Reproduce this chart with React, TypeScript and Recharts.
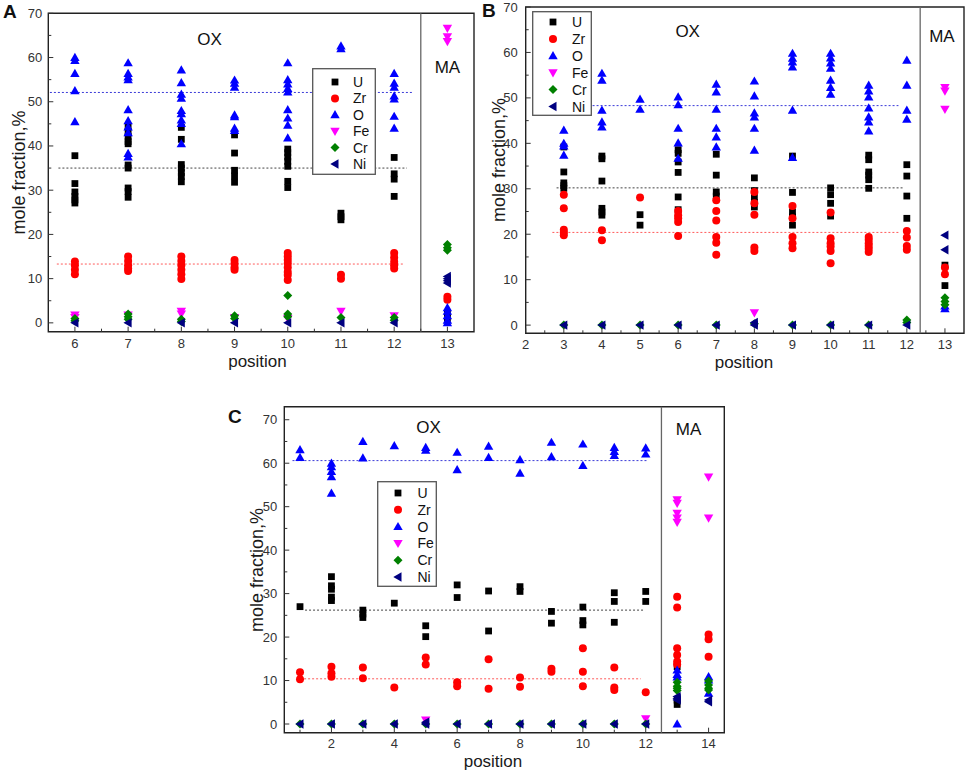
import React from 'react';
import { ScatterChart, Scatter, XAxis, YAxis, ReferenceLine, ReferenceArea, ReferenceDot, Legend } from 'recharts';

type Col = [number, number[]][];

const FONT = '"Liberation Sans", Arial, Helvetica, sans-serif';

const SERIES = ['U', 'Zr', 'O', 'Fe', 'Cr', 'Ni'];
const COLORS = ['#000000', '#ff0000', '#0000ff', '#ff00ff', '#008000', '#000080'];
const SHAPES = ['square', 'circle', 'up', 'down', 'diamond', 'left'];

const Y_MAJOR = [0, 10, 20, 30, 40, 50, 60, 70];
const Y_MINOR = [5, 15, 25, 35, 45, 55, 65];
const A_X_MAJOR = [6, 7, 8, 9, 10, 11, 12, 13];
const A_X_MINOR = [6.5, 7.5, 8.5, 9.5, 10.5, 11.5, 12.5];
const B_X_MAJOR = [2, 3, 4, 5, 6, 7, 8, 9, 10, 11, 12, 13];
const B_X_MINOR = [2.5, 3.5, 4.5, 5.5, 6.5, 7.5, 8.5, 9.5, 10.5, 11.5, 12.5];
const C_X_MAJOR = [2, 4, 6, 8, 10, 12, 14];
const C_X_MINOR = [1, 3, 5, 7, 9, 11, 13];

// ---------- Panel A ----------
const A_U: Col = [
  [6, [37.8, 31.5, 29.6, 28.6, 27.8, 27.1]],
  [7, [44.4, 43.2, 42.1, 41.0, 40.5, 35.7, 35.0, 30.5, 29.7, 28.4]],
  [8, [44.2, 41.5, 35.8, 35.0, 34.0, 33.1, 31.9]],
  [9, [42.5, 38.4, 34.5, 33.2, 31.8]],
  [10, [39.3, 38.5, 37.5, 36.5, 35.4, 32.0, 30.6]],
  [11, [24.8, 24.0, 23.3]],
  [12, [37.4, 33.7, 32.5, 28.6]],
  [13, [2.2, 1.0]],
];
const A_ZR: Col = [
  [6, [13.9, 13.0, 12.0, 11.0]],
  [7, [15.0, 14.0, 13.0, 12.3, 11.7]],
  [8, [15.0, 14.0, 13.0, 12.0, 11.0, 9.9]],
  [9, [14.2, 13.4, 12.6, 12.0]],
  [10, [15.8, 15.0, 14.2, 13.4, 12.5, 11.5, 10.8, 9.7]],
  [11, [10.9, 10.0]],
  [12, [15.8, 14.8, 13.8, 13.0, 12.3]],
  [13, [5.9, 5.2]],
];
const A_O: Col = [
  [6, [60.0, 59.3, 56.4, 52.5, 45.5]],
  [7, [58.8, 56.4, 55.6, 55.0, 48.2, 45.7, 44.3, 43.0, 38.3, 37.5]],
  [8, [57.2, 54.3, 51.7, 50.8, 48.0, 47.3, 45.9, 45.1, 40.5]],
  [9, [54.9, 54.2, 53.3, 47.0, 46.6, 44.0, 43.5]],
  [10, [58.8, 55.0, 54.0, 53.0, 52.2, 48.2, 46.3, 44.7, 41.8]],
  [11, [62.6, 62.0]],
  [12, [56.4, 54.2, 53.3, 51.3, 50.6, 46.7, 44.0]],
  [13, [3.4, 2.6, 1.6, 0.6, 0.0]],
];
const A_FE: Col = [
  [6, [1.8, 1.2]], [7, [1.8]], [8, [2.6, 2.0]], [9, [1.2]], [10, [1.0]],
  [11, [2.6]], [12, [1.6]], [13, [66.6, 64.7, 63.6]],
];
const A_CR: Col = [
  [6, [1.0, 0.5]], [7, [2.0, 1.4, 0.8]], [8, [0.8, 0.3]], [9, [1.6, 1.0]],
  [10, [6.2, 2.0, 1.4]], [11, [1.2]], [12, [1.2, 0.6]], [13, [17.7, 17.0, 16.4]],
];
const A_NI: Col = [
  [6, [0]], [7, [0]], [8, [0]], [9, [0]], [10, [0]], [11, [0]], [12, [0]],
  [13, [10.5, 10.0, 9.5, 9.0]],
];
const A_MEANS = [52.1, 35.0, 13.3]; // O, U, Zr

// ---------- Panel B ----------
const B_U: Col = [
  [3, [39.2, 33.7, 31.3, 30.7, 30.1]],
  [4, [37.2, 36.6, 31.7, 25.7, 24.9, 24.2]],
  [5, [24.3, 22.0]],
  [6, [38.6, 37.8, 35.9, 33.6, 28.2, 25.4]],
  [7, [37.6, 33.0, 29.3, 28.4]],
  [8, [32.4, 29.6, 28.2, 27.0, 26.0]],
  [9, [37.2, 29.2, 24.9, 23.8, 22.0]],
  [10, [30.2, 28.7, 26.8, 24.0]],
  [11, [37.4, 36.4, 33.7, 33.0, 32.0, 30.1]],
  [12, [35.3, 32.8, 28.4, 23.5]],
  [13, [13.2, 8.7]],
];
const B_ZR: Col = [
  [3, [28.7, 25.7, 21.0, 20.4, 19.8]],
  [4, [20.9, 18.7]],
  [5, [28.1]],
  [6, [25.1, 24.2, 23.5, 22.7, 19.6]],
  [7, [27.5, 25.1, 23.0, 19.4, 18.1, 15.5]],
  [8, [29.3, 26.8, 24.3, 17.1, 16.3]],
  [9, [26.2, 23.5, 19.4, 18.0, 16.9]],
  [10, [24.8, 19.1, 18.0, 17.3, 16.3, 13.6]],
  [11, [19.4, 18.8, 18.0, 17.4, 16.8, 16.1]],
  [12, [20.7, 19.3, 17.4, 16.6]],
  [13, [12.7, 11.2]],
];
const B_O: Col = [
  [3, [42.9, 40.0, 39.4, 37.4]],
  [4, [55.4, 53.9, 47.3, 44.7, 43.6]],
  [5, [49.7, 47.5]],
  [6, [50.2, 48.5, 43.3, 40.1, 36.7]],
  [7, [53.0, 51.3, 47.5, 43.3, 41.4, 39.2]],
  [8, [53.7, 50.4, 46.7, 45.8, 43.3, 38.5]],
  [9, [59.8, 58.7, 57.9, 56.8, 47.3, 36.9]],
  [10, [59.8, 58.8, 57.7, 56.5, 53.9, 52.3, 50.8]],
  [11, [52.8, 51.5, 50.2, 47.8, 45.8, 44.7, 42.7]],
  [12, [58.3, 52.8, 47.3, 45.3]],
  [13, [4.2, 3.6]],
];
const B_FE: Col = [[8, [2.7]], [13, [52.3, 51.5, 47.5]]];
const B_CR: Col = [
  [3, [0]], [4, [0]], [5, [0]], [6, [0]], [7, [0]], [8, [0.3]], [9, [0]],
  [10, [0]], [11, [0]], [12, [1.1, 0.6]], [13, [6.0, 5.2, 4.5]],
];
const B_NI: Col = [
  [3, [0]], [4, [0]], [5, [0]], [6, [0]], [7, [0]], [8, [0.6, 0]], [9, [0]],
  [10, [0]], [11, [0]], [12, [0]], [13, [19.8, 16.6]],
];
const B_MEANS = [48.3, 30.2, 20.4];

// ---------- Panel C ----------
const C_U: Col = [
  [1, [27.0]],
  [2, [33.9, 31.8, 31.0, 29.2, 28.4]],
  [3, [26.2, 25.3, 24.5]],
  [4, [27.8]],
  [5, [22.6, 20.1]],
  [6, [32.0, 29.1]],
  [7, [30.6, 21.4]],
  [8, [31.6, 30.5]],
  [9, [25.9, 23.2]],
  [10, [26.9, 23.8, 22.8]],
  [11, [30.2, 28.2, 23.4]],
  [12, [30.5, 28.2]],
  [13, [13.2, 5.5, 4.5]],
];
const C_ZR: Col = [
  [1, [11.9, 10.3]],
  [2, [13.2, 11.7, 10.9]],
  [3, [13.0, 10.5]],
  [4, [8.4]],
  [5, [15.3, 13.7]],
  [6, [9.6, 8.7]],
  [7, [14.9, 8.1]],
  [8, [10.7, 8.6]],
  [9, [12.7, 12.0]],
  [10, [17.4, 12.0, 8.7]],
  [11, [13.0, 8.4, 7.8]],
  [12, [7.3]],
  [13, [29.3, 26.8, 17.4, 15.9, 14.4, 13.7]],
  [14, [20.6, 19.5, 15.5]],
];
const C_O: Col = [
  [1, [63.1, 61.3]],
  [2, [60.0, 59.2, 58.1, 56.9, 53.1]],
  [3, [65.0, 61.2]],
  [4, [64.0]],
  [5, [63.6, 63.0]],
  [6, [62.5, 58.5]],
  [7, [63.9, 61.3]],
  [8, [60.8, 57.7]],
  [9, [64.8, 61.5]],
  [10, [64.4, 59.5]],
  [11, [63.6, 62.7, 61.8]],
  [12, [63.5, 62.1]],
  [13, [12.4, 11.4, 10.8, 0.0]],
  [14, [10.9, 10.1, 7.1]],
];
const C_FE: Col = [
  [5, [0.9]], [12, [1.2]], [13, [51.6, 50.8, 48.5, 47.4, 46.4]], [14, [56.8, 47.4]],
];
const C_CR: Col = [
  [1, [0]], [2, [0]], [3, [0]], [4, [0]], [5, [0]], [6, [0]], [7, [0]],
  [8, [0]], [9, [0]], [10, [0]], [11, [0]], [12, [0]],
  [13, [9.6, 8.7, 8.2, 7.7]], [14, [9.9, 9.0, 8.2, 7.8]],
];
const C_NI: Col = [
  [1, [0]], [2, [0]], [3, [0]], [4, [0]], [5, [0.4, 0]], [6, [0]], [7, [0]],
  [8, [0]], [9, [0]], [10, [0]], [11, [0]], [12, [0]],
  [13, [6.3, 5.8, 5.5]], [14, [5.5, 5.1]],
];
const C_MEANS = [60.6, 26.2, 10.4];

const flatten = (cols: Col) => cols.flatMap(([x, ys]) => ys.map((y) => ({ x, y })));

function Marker({ cx, cy, kind, color }: any) {
  if (cx == null || cy == null) return null;
  switch (kind) {
    case 'square':
      return <rect x={cx - 3.4} y={cy - 3.4} width={6.8} height={6.8} fill={color} />;
    case 'circle':
      return <circle cx={cx} cy={cy} r={4} fill={color} />;
    case 'up':
      return <polygon points={`${cx},${cy - 4.7} ${cx + 4.7},${cy + 3.5} ${cx - 4.7},${cy + 3.5}`} fill={color} />;
    case 'down':
      return <polygon points={`${cx},${cy + 4.7} ${cx + 4.7},${cy - 3.5} ${cx - 4.7},${cy - 3.5}`} fill={color} />;
    case 'diamond':
      return <polygon points={`${cx},${cy - 4.5} ${cx + 4.5},${cy} ${cx},${cy + 4.5} ${cx - 4.5},${cy}`} fill={color} />;
    default:
      return <polygon points={`${cx - 4.7},${cy} ${cx + 3.5},${cy - 4.7} ${cx + 3.5},${cy + 4.7}`} fill={color} />;
  }
}

const makeXTick = (major: number[], labelDy: number) => (p: any) => {
  const v = Number(p.payload.value);
  const isMaj = major.includes(v);
  return (
    <g>
      <line x1={p.x} x2={p.x} y1={p.y} y2={p.y - (isMaj ? 5 : 3)} stroke="#333" strokeWidth={1} />
      {isMaj && (
        <text x={p.x} y={p.y + labelDy} textAnchor="middle" fontSize={13} fill="#333" fontFamily={FONT}>
          {v}
        </text>
      )}
    </g>
  );
};

const makeYTick = (gap: number) => (p: any) => {
  const v = Number(p.payload.value);
  const isMaj = Y_MAJOR.includes(v);
  return (
    <g>
      <line x1={p.x} x2={p.x + (isMaj ? 5 : 3)} y1={p.y} y2={p.y} stroke="#333" strokeWidth={1} />
      {isMaj && (
        <text x={p.x - gap} y={p.y + 4.5} textAnchor="end" fontSize={13} fill="#333" fontFamily={FONT}>
          {v}
        </text>
      )}
    </g>
  );
};

function LegendBox({ w, h, mx, tx, y0, dy }: any) {
  return (
    <svg width={w} height={h} style={{ display: 'block' }}>
      <rect x={0.7} y={0.7} width={w - 1.4} height={h - 1.4} fill="#fff" stroke="#555" strokeWidth={1.3} />
      {SERIES.map((s, i) => (
        <g key={s}>
          <Marker cx={mx} cy={y0 + i * dy} kind={SHAPES[i]} color={COLORS[i]} />
          <text x={tx} y={y0 + i * dy + 5} fontSize={14} fill="#111" fontFamily={FONT}>
            {s}
          </text>
        </g>
      ))}
    </svg>
  );
}

type PanelProps = {
  left: number; top: number; width: number; height: number;
  mTop: number; mRight: number; yW: number; xH: number;
  xDomain: [number, number]; yDomain: [number, number];
  xMajor: number[]; xMinor: number[]; xLabelDy: number; yGap: number;
  data: Col[]; means: number[]; meanSpans: [number, number][];
  sep: number; ox: [number, number]; ma: [number, number];
  legend: { left: number; top: number; w: number; h: number; mx: number; tx: number; y0: number; dy: number };
};

function Panel(pp: PanelProps) {
  const xTicks = [...pp.xMajor, ...pp.xMinor].sort((a, b) => a - b);
  const yTicks = [...Y_MAJOR, ...Y_MINOR].sort((a, b) => a - b);
  const meanColors = ['#3a3ad8', '#444444', '#ff5a5a'];
  return (
    <div style={{ position: 'absolute', left: pp.left, top: pp.top }}>
      <ScatterChart
        width={pp.width}
        height={pp.height}
        margin={{ top: pp.mTop, right: pp.mRight, left: 0, bottom: 0 }}
      >
        <XAxis
          type="number"
          dataKey="x"
          domain={pp.xDomain}
          ticks={xTicks}
          interval={0}
          height={pp.xH}
          axisLine={false}
          tickLine={false}
          tickSize={0}
          tickMargin={0}
          tick={makeXTick(pp.xMajor, pp.xLabelDy)}
          allowDataOverflow
        />
        <YAxis
          type="number"
          dataKey="y"
          domain={pp.yDomain}
          ticks={yTicks}
          interval={0}
          width={pp.yW}
          axisLine={false}
          tickLine={false}
          tickSize={0}
          tickMargin={0}
          tick={makeYTick(pp.yGap)}
          allowDataOverflow
        />
        <ReferenceArea
          x1={pp.xDomain[0]}
          x2={pp.xDomain[1]}
          y1={pp.yDomain[0]}
          y2={pp.yDomain[1]}
          fill="none"
          fillOpacity={0}
          stroke="#222"
          strokeWidth={1.4}
        />
        <ReferenceLine x={pp.sep} stroke="#666" strokeWidth={1.3} />
        {pp.means.map((m, i) => (
          <ReferenceLine
            key={i}
            segment={[{ x: pp.meanSpans[i][0], y: m }, { x: pp.meanSpans[i][1], y: m }]}
            stroke={meanColors[i]}
            strokeDasharray="2 2"
            strokeWidth={1}
          />
        ))}
        {pp.data.map((cols, i) => (
          <Scatter
            key={SERIES[i]}
            name={SERIES[i]}
            data={flatten(cols)}
            isAnimationActive={false}
            shape={(p: any) => <Marker cx={p.cx} cy={p.cy} kind={SHAPES[i]} color={COLORS[i]} />}
          />
        ))}
        <ReferenceDot
          x={pp.ox[0]}
          y={pp.ox[1]}
          r={0}
          fill="none"
          stroke="none"
          label={{ value: 'OX', position: 'center', fontSize: 17, fill: '#111', fontFamily: FONT }}
        />
        <ReferenceDot
          x={pp.ma[0]}
          y={pp.ma[1]}
          r={0}
          fill="none"
          stroke="none"
          label={{ value: 'MA', position: 'center', fontSize: 17, fill: '#111', fontFamily: FONT }}
        />
        <Legend
          layout="vertical"
          align="center"
          verticalAlign="middle"
          wrapperStyle={{ left: pp.legend.left, top: pp.legend.top, width: pp.legend.w, height: pp.legend.h }}
          content={() => (
            <LegendBox
              w={pp.legend.w}
              h={pp.legend.h}
              mx={pp.legend.mx}
              tx={pp.legend.tx}
              y0={pp.legend.y0}
              dy={pp.legend.dy}
            />
          )}
        />
      </ScatterChart>
    </div>
  );
}

export default function App() {
  return (
    <div
      style={{
        position: 'absolute',
        left: 0,
        top: 0,
        width: 969,
        height: 770,
        background: '#fff',
        fontFamily: FONT,
        overflow: 'hidden',
      }}
    >
      <Panel
        left={0} top={0} width={480} height={380}
        mTop={13.3} mRight={6} yW={48.3} xH={48.3}
        xDomain={[5.5, 13.5]} yDomain={[-2, 70]}
        xMajor={A_X_MAJOR} xMinor={A_X_MINOR} xLabelDy={16} yGap={6}
        data={[A_U, A_ZR, A_O, A_FE, A_CR, A_NI]}
        means={A_MEANS}
        meanSpans={[[5.53, 12.35], [5.69, 12.24], [5.66, 12.2]]}
        sep={12.5} ox={[8.53, 64.1]} ma={[13.0, 57.8]}
        legend={{ left: 312, top: 68, w: 64, h: 107, mx: 23, tx: 41, y0: 14, dy: 16.4 }}
      />
      <Panel
        left={480} top={0} width={489} height={380}
        mTop={7} mRight={5} yW={45.7} xH={46.7}
        xDomain={[2, 13.5]} yDomain={[-1.8, 70]}
        xMajor={B_X_MAJOR} xMinor={B_X_MINOR} xLabelDy={16} yGap={8}
        data={[B_U, B_ZR, B_O, B_FE, B_CR, B_NI]}
        means={B_MEANS}
        meanSpans={[[2.81, 11.78], [2.81, 11.93], [2.7, 11.8]]}
        sep={12.35} ox={[6.25, 64.8]} ma={[12.92, 63.6]}
        legend={{ left: 52, top: 11, w: 60, h: 105, mx: 21, tx: 40, y0: 11, dy: 16.9 }}
      />
      <Panel
        left={200} top={395} width={530} height={375}
        mTop={11.7} mRight={5.7} yW={84.3} xH={37.3}
        xDomain={[0.5, 14.5]} yDomain={[-2, 73]}
        xMajor={C_X_MAJOR} xMinor={C_X_MINOR} xLabelDy={15.5} yGap={7}
        data={[C_U, C_ZR, C_O, C_FE, C_CR, C_NI]}
        means={C_MEANS}
        meanSpans={[[0.76, 12.08], [1.16, 11.96], [1.13, 11.84]]}
        sep={12.5} ox={[5.09, 68.4]} ma={[13.36, 67.9]}
        legend={{ left: 177.3, top: 86, w: 60, h: 106, mx: 21, tx: 40.5, y0: 12, dy: 16.8 }}
      />
      <svg
        width={969}
        height={770}
        style={{ position: 'absolute', left: 0, top: 0, pointerEvents: 'none' }}
        fontFamily={FONT}
      >
        <text x={3} y={18} fontSize={19} fontWeight="bold" fill="#111">A</text>
        <text x={482} y={17} fontSize={19} fontWeight="bold" fill="#111">B</text>
        <text x={228} y={423} fontSize={19} fontWeight="bold" fill="#111">C</text>

        <text transform="translate(24.5,172.5) rotate(-90)" textAnchor="middle" fontSize={18} fill="#1a1a1a">mole fraction,%</text>
        <text transform="translate(505,160) rotate(-90)" textAnchor="middle" fontSize={18} fill="#1a1a1a">mole fraction,%</text>
        <text transform="translate(262.5,570) rotate(-90)" textAnchor="middle" fontSize={18} fill="#1a1a1a">mole fraction,%</text>

        <text x={257.5} y={366.5} textAnchor="middle" fontSize={17} fill="#1a1a1a">position</text>
        <text x={744} y={368} textAnchor="middle" fontSize={17} fill="#1a1a1a">position</text>
        <text x={493} y={766.5} textAnchor="middle" fontSize={17} fill="#1a1a1a">position</text>
      </svg>
    </div>
  );
}
